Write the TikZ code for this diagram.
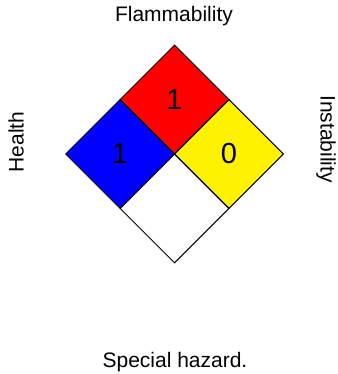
\documentclass[tikz,border=0pt]{standalone}
\usepackage{fontspec}
\setmainfont{Liberation Sans}
\usetikzlibrary{shapes.geometric}

\tikzset{
  hazard/.style={diamond, draw=black, line width=1pt, inner sep=0pt,
    minimum width=109pt, minimum height=109pt,
    font=\fontsize{29}{31}\selectfont},
  caption/.style={font=\fontsize{21}{25}\selectfont}
}

\begin{document}
\begin{tikzpicture}[x=1pt, y=1pt]
\useasboundingbox (0,0) rectangle (337,-374);

\node (red) [hazard, fill=red] at (174.5,-99.5) {1};
\node (blue) [hazard, fill=blue] at (120,-154) {1};
\node (yellow) [hazard, fill=yellow] at (229,-154) {0};
\node (white) [hazard, fill=white] at (174.5,-208.5) {};

\node (flam) [caption] at (174,-16) {Flammability};
\node (health) [caption, rotate=90] at (16,-142) {Health};
\node (inst) [caption, rotate=-90] at (326,-139) {Instability};
\node (special) [caption] at (175,-362) {Special hazard.};
\end{tikzpicture}
\end{document}
